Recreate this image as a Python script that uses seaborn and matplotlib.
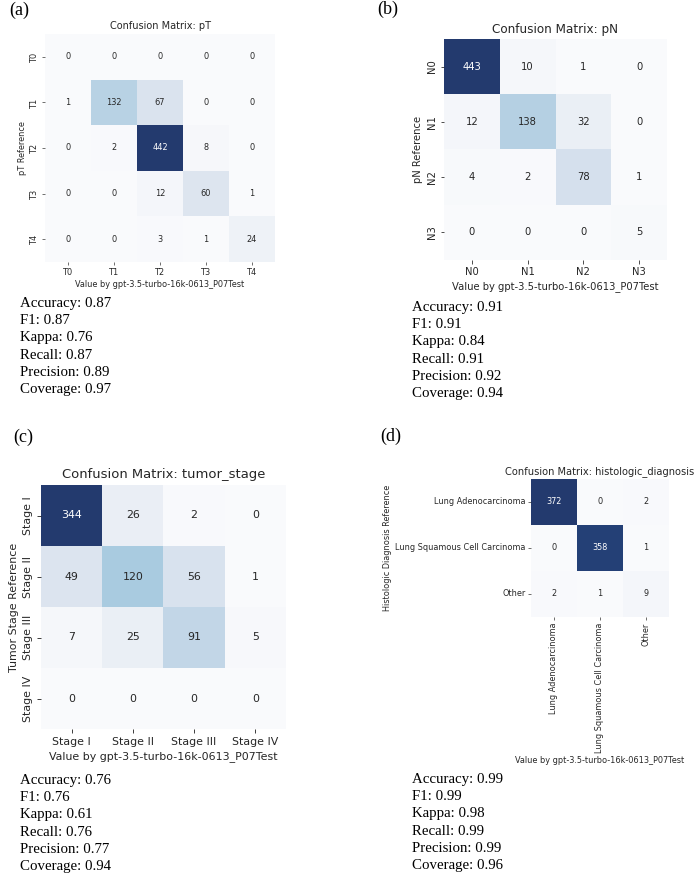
import numpy as np
import matplotlib
matplotlib.use('Agg')
import matplotlib.pyplot as plt
import seaborn as sns

# Данные матриц ошибок
pt_labels = ['T0', 'T1', 'T2', 'T3', 'T4']
pt_matrix = [[0, 0, 0, 0, 0],
             [1, 132, 67, 0, 0],
             [0, 2, 442, 8, 0],
             [0, 0, 12, 60, 1],
             [0, 0, 3, 1, 24]]

pn_labels = ['N0', 'N1', 'N2', 'N3']
pn_matrix = [[443, 10, 1, 0],
             [12, 138, 32, 0],
             [4, 2, 78, 1],
             [0, 0, 0, 5]]

stage_labels = ['Stage I', 'Stage II', 'Stage III', 'Stage IV']
stage_matrix = [[344, 26, 2, 0],
                [49, 120, 56, 1],
                [7, 25, 91, 5],
                [0, 0, 0, 0]]

histo_labels = ['Lung Adenocarcinoma', 'Lung Squamous Cell Carcinoma', 'Other']
histo_matrix = [[372, 0, 2],
                [0, 358, 1],
                [2, 1, 9]]

metric_names = ['Accuracy', 'F1', 'Kappa', 'Recall', 'Precision', 'Coverage']
pt_metrics = [0.87, 0.87, 0.76, 0.87, 0.89, 0.97]
pn_metrics = [0.91, 0.91, 0.84, 0.91, 0.92, 0.94]
stage_metrics = [0.76, 0.76, 0.61, 0.76, 0.77, 0.94]
histo_metrics = [0.99, 0.99, 0.98, 0.99, 0.99, 0.96]

xlabel = 'Value by gpt-3.5-turbo-16k-0613_P07Test'

W, H = 700, 874
fig = plt.figure(figsize=(W / 100, H / 100), dpi=100)

# Палитра: выцветшая версия Blues
cmap = sns.blend_palette(['#f9fafc', '#dfe6f0', '#c6d8e8', '#a2c8de', '#73a9cf',
                          '#4d8cbf', '#316aa6', '#254f8a', '#233a6e'], as_cmap=True)


def px_axes(x, y, w, h):
    return fig.add_axes([x / W, 1 - (y + h) / H, w / W, h / H])


def draw_panel(matrix, labels, name, ylab, rect, s, ylab_rot=90, xlab_rot=0):
    ax = px_axes(*rect)
    sns.heatmap(np.array(matrix), annot=True, fmt='d', cmap=cmap, cbar=False,
                vmin=0, xticklabels=labels, yticklabels=labels,
                annot_kws={'fontsize': 10 * s}, ax=ax)
    ax.set_title(f'Confusion Matrix: {name}', fontsize=12 * s, pad=6 * s, color='#262626')
    ax.set_xlabel(xlabel, fontsize=10 * s, labelpad=4 * s, color='#262626')
    ax.set_ylabel(ylab, fontsize=10 * s, labelpad=4 * s, color='#262626')
    ax.tick_params(labelsize=10 * s, length=3.5 * s, width=0.8 * s, pad=3.5 * s,
                   colors='#262626')
    plt.setp(ax.get_yticklabels(), rotation=ylab_rot, va='center')
    plt.setp(ax.get_xticklabels(), rotation=xlab_rot)
    return ax


def draw_metrics(values, x, y0):
    for i, (n, v) in enumerate(zip(metric_names, values)):
        fig.text(x / W, 1 - (y0 + i * 17.2) / H, f'{n}: {v:.2f}',
                 family='Liberation Serif', fontsize=10.7, va='baseline', ha='left')


def panel_letter(t, x, y):
    fig.text(x / W, 1 - y / H, t, family='Liberation Serif', fontsize=13,
             va='baseline', ha='left')


draw_panel(pt_matrix, pt_labels, 'pT', 'pT Reference', (45, 34, 230, 228), 0.585)
draw_panel(pn_matrix, pn_labels, 'pN', 'pN Reference', (444, 39, 223, 221), 0.72)
draw_panel(stage_matrix, stage_labels, 'tumor_stage', 'Tumor Stage Reference',
           (41, 485, 245, 244), 0.79)
draw_panel(histo_matrix, histo_labels, 'histologic_diagnosis', 'Histologic Diagnosis Reference',
           (531, 479, 138, 138), 0.59, ylab_rot=0, xlab_rot=90)

draw_metrics(pt_metrics, 20, 307)
draw_metrics(pn_metrics, 412, 311)
draw_metrics(stage_metrics, 20, 784)
draw_metrics(histo_metrics, 412, 783)

panel_letter('(a)', 9, 14.5)
panel_letter('(b)', 377, 14)
panel_letter('(c)', 13, 442)
panel_letter('(d)', 380, 441)

fig.savefig('out.png', dpi=100)
